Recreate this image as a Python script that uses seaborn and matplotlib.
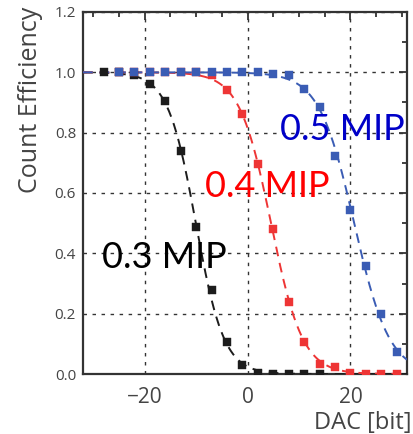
import numpy as np
import pandas as pd
import seaborn as sns
import matplotlib.pyplot as plt
from matplotlib.ticker import MultipleLocator

dac_03 = [-28, -25, -22, -19, -16, -13, -10, -7, -4, -1, 2, 5, 8, 11, 14]
eff_03 = [1.0, 1.0, 0.99, 0.96, 0.905, 0.74, 0.486, 0.28, 0.105, 0.03, 0.005, 0.0, 0.0, 0.0, 0.0]

dac_04 = [-25, -22, -19, -16, -13, -10, -7, -4, -1, 2, 5, 8, 11, 14, 17, 20, 23, 26, 29]
eff_04 = [1.0, 1.0, 1.0, 1.0, 1.0, 1.0, 0.99, 0.943, 0.862, 0.697, 0.48, 0.239, 0.107, 0.033, 0.022, 0.005, 0.0, 0.0, 0.0]

dac_05 = [-25, -22, -19, -16, -13, -10, -7, -4, -1, 2, 5, 8, 11, 14, 17, 20, 23, 26, 29]
eff_05 = [1.0, 1.0, 1.0, 1.0, 1.0, 1.0, 1.0, 1.0, 1.0, 1.0, 0.993, 0.99, 0.945, 0.885, 0.723, 0.544, 0.357, 0.2, 0.073]

series = [
    ("0.3 MIP", dac_03, eff_03, "#1c1c1c", "black", -16.2, 0.385),
    ("0.4 MIP", dac_04, eff_04, "#ee3535", "#ff0000", 3.8, 0.62),
    ("0.5 MIP", dac_05, eff_05, "#3a5cb4", "#0000c8", 18.4, 0.81),
]


def logistic_fit(x, y):
    # fit 1/(1+exp((x-x0)/s)) via linearised logit
    x = np.asarray(x, float)
    y = np.asarray(y, float)
    m = (y > 0.02) & (y < 0.98)
    a, b = np.polyfit(x[m], np.log(1.0 / y[m] - 1.0), 1)
    return a, b


sns.set_style("white")
plt.rcParams["font.family"] = ["Open Sans", "DejaVu Sans"]

fig = plt.figure(figsize=(4.14, 4.34), dpi=100)
ax = fig.add_axes([0.2005, 0.1382, 0.7825, 0.8342])

xs = np.linspace(-32, 31, 400)
for name, x, y, c, tc, tx, ty in series:
    a, b = logistic_fit(x, y)
    fit = pd.DataFrame({"dac": xs, "eff": 1.0 / (1.0 + np.exp(a * xs + b))})
    sns.lineplot(data=fit, x="dac", y="eff", ax=ax, color=c, lw=1.4,
                 dashes=False, linestyle=(0, (5, 3.5)), zorder=3)
    df = pd.DataFrame({"dac": x, "eff": y})
    sns.scatterplot(data=df, x="dac", y="eff", ax=ax, color=c, marker="s",
                    s=38, edgecolor=c, linewidth=0.3, zorder=4)
    ax.text(tx, ty, name, color=tc, fontsize=26, family=["Lato", "DejaVu Sans"],
            ha="center", va="center", zorder=6)

ax.set_xlim(-32, 31)
ax.set_ylim(0, 1.2)
ax.xaxis.set_major_locator(MultipleLocator(20))
ax.xaxis.set_minor_locator(MultipleLocator(5))
ax.yaxis.set_major_locator(MultipleLocator(0.2))
ax.yaxis.set_minor_locator(MultipleLocator(0.1))
ax.yaxis.set_major_formatter(plt.FormatStrFormatter("%.1f"))

ax.grid(True, which="major", color="#333333", linestyle=(0, (2.5, 4)), lw=1.0)
for s in ax.spines.values():
    s.set_color("#333333")
    s.set_linewidth(1.6)

ax.tick_params(which="both", direction="in", top=True, right=True,
               color="#333333", width=1.3)
ax.tick_params(which="major", length=6)
ax.tick_params(which="minor", length=3.5)
ax.tick_params(axis="x", labelsize=15, labelcolor="#444444", pad=9)
ax.tick_params(axis="y", labelsize=11, labelcolor="#444444", pad=5)

ax.set_xlabel("DAC [bit]", fontsize=17, color="#444444")
ax.xaxis.set_label_coords(0.862, -0.102)
ax.set_ylabel("Count Efficiency", fontsize=18, color="#444444")
ax.yaxis.set_label_coords(-0.125, 0.757)

fig.savefig("out.png", dpi=100)
